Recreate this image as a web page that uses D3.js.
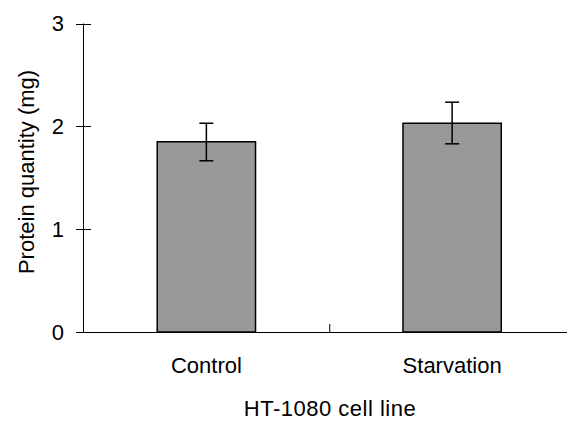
<!DOCTYPE html>
<html>
<head>
<meta charset="utf-8">
<script src="https://cdn.jsdelivr.net/npm/d3@7"></script>
<style>
  body { margin: 0; background: #fff; }
  text { font-family: "Liberation Sans", Arial, sans-serif; fill: #000; }
</style>
</head>
<body>
<svg width="567" height="426"></svg>
<script>
var categories = ["Control", "Starvation"]
var means = [1.85, 2.03]
var errLow = [1.665, 1.83]
var errHigh = [2.03, 2.235]
var yTicks = [0, 1, 2, 3]

var svg = d3.select("svg")
var fontSize = 22

var x = d3.scaleBand().domain(categories).range([83.5, 575]).paddingInner(0).paddingOuter(0)
var y = d3.scaleLinear().domain([0, 3]).range([332, 23.5])

var data = categories.map((c, i) => ({cat: c, mean: means[i], lo: errLow[i], hi: errHigh[i]}))
var barW = x.bandwidth() * 0.4

// bars
svg.append("g").selectAll("rect")
	.data(data)
	.enter()
	.append("rect")
	.attr("x", d => x(d.cat) + x.bandwidth() / 2 - barW / 2)
	.attr("y", d => y(d.mean))
	.attr("width", barW)
	.attr("height", d => y(0) - y(d.mean))
	.style("fill", "#999999")
	.style("stroke", "#000")
	.style("stroke-width", 1.5)

// error bars
var eg = svg.append("g").selectAll("g").data(data).enter().append("g")
eg.append("line")
	.attr("x1", d => x(d.cat) + x.bandwidth() / 2)
	.attr("x2", d => x(d.cat) + x.bandwidth() / 2)
	.attr("y1", d => y(d.lo))
	.attr("y2", d => y(d.hi))
	.style("stroke", "#000").style("stroke-width", 1.5)
eg.selectAll("line.cap")
	.data(d => [d.lo, d.hi].map(v => ({cx: x(d.cat) + x.bandwidth() / 2, v: v})))
	.enter()
	.append("line")
	.attr("class", "cap")
	.attr("x1", d => d.cx - 7)
	.attr("x2", d => d.cx + 7)
	.attr("y1", d => y(d.v))
	.attr("y2", d => y(d.v))
	.style("stroke", "#000").style("stroke-width", 1.5)

// y axis
svg.append("line")
	.attr("x1", 83.5).attr("x2", 83.5)
	.attr("y1", y(3)).attr("y2", y(0))
	.style("stroke", "#000").style("stroke-width", 1)
svg.append("g").selectAll("line")
	.data(yTicks)
	.enter()
	.append("line")
	.attr("x1", 76).attr("x2", 91)
	.attr("y1", d => Math.round(y(d)) + 0.5)
	.attr("y2", d => Math.round(y(d)) + 0.5)
	.style("stroke", "#000").style("stroke-width", 1)
svg.append("g").selectAll("text")
	.data(yTicks)
	.enter()
	.append("text")
	.attr("x", 64)
	.attr("y", d => y(d))
	.attr("dy", "0.36em")
	.style("text-anchor", "end")
	.style("font-size", fontSize + "px")
	.text(d => d)

// x axis
svg.append("line")
	.attr("x1", 83.5).attr("x2", 575)
	.attr("y1", 332.5).attr("y2", 332.5)
	.style("stroke", "#000").style("stroke-width", 1)
svg.append("line")
	.attr("x1", x("Starvation") + 0.5).attr("x2", x("Starvation") + 0.5)
	.attr("y1", 324).attr("y2", 332)
	.style("stroke", "#000").style("stroke-width", 1)
svg.append("g").selectAll("text")
	.data(categories)
	.enter()
	.append("text")
	.attr("x", d => x(d) + x.bandwidth() / 2)
	.attr("y", 373)
	.style("text-anchor", "middle")
	.style("font-size", fontSize + "px")
	.text(d => d)

svg.append("text")
	.attr("x", 330)
	.attr("y", 416)
	.style("text-anchor", "middle")
	.style("font-size", fontSize + "px")
	.style("letter-spacing", "0.5px")
	.text("HT-1080 cell line")

svg.append("text")
	.attr("transform", "translate(34,172) rotate(-90)")
	.style("text-anchor", "middle")
	.style("font-size", fontSize + "px")
	.text("Protein quantity (mg)")
</script>
</body>
</html>
